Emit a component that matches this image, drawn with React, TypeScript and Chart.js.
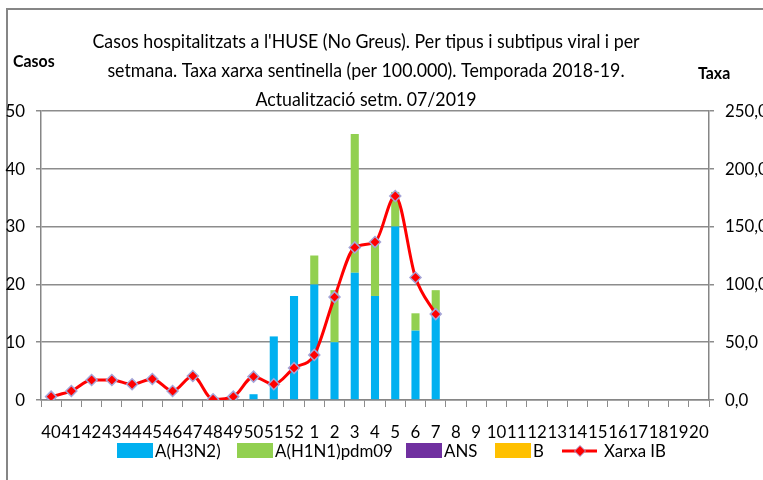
import React, { useEffect, useRef } from "react";
import { Chart, registerables } from "chart.js";

Chart.register(...registerables);

const FONT = "Lato, 'Liberation Sans', sans-serif";

const weeks = [
  "40", "41", "42", "43", "44", "45", "46", "47", "48", "49", "50", "51", "52",
  "1", "2", "3", "4", "5", "6", "7", "8", "9", "10", "11", "12", "13", "14", "15", "16", "17", "18", "19", "20",
];

const h3n2 = [0, 0, 0, 0, 0, 0, 0, 0, 0, 0, 1, 11, 18, 20, 10, 22, 18, 30, 12, 15];
const h1n1 = [0, 0, 0, 0, 0, 0, 0, 0, 0, 0, 0, 0, 0, 5, 9, 24, 9, 6, 3, 4];
const ans = [0, 0, 0, 0, 0, 0, 0, 0, 0, 0, 0, 0, 0, 0, 0, 0, 0, 0, 0, 0];
const fluB = [0, 0, 0, 0, 0, 0, 0, 0, 0, 0, 0, 0, 0, 0, 0, 0, 0, 0, 0, 0];
const taxaIB = [2.9, 7.8, 17.3, 17.3, 13.6, 18.2, 7.8, 20.8, 0.6, 2.9, 20.2, 13.6, 27.7, 39, 89, 132, 136.7, 176.5, 106, 74.3];

const seriesNames = ["A(H3N2)", "A(H1N1)pdm09", "ANS", "B", "Xarxa IB"];
const casosTicks = [0, 10, 20, 30, 40, 50];
const taxaTicks = [0, 50, 100, 150, 200, 250];

const titleLines = [
  "Casos hospitalitzats a l'HUSE (No Greus). Per tipus i subtipus viral i per",
  "setmana. Taxa xarxa sentinella (per 100.000). Temporada 2018-19.",
  "Actualització setm. 07/2019",
];
const leftAxisTitle = "Casos";
const rightAxisTitle = "Taxa";

const COLORS = {
  h3n2: "#00B0F0",
  h1n1: "#92D050",
  ans: "#7030A0",
  b: "#FFC000",
  line: "#FF0000",
  marker: "#A5A5D8",
  grid: "#8C8C8C",
  axis: "#868686",
};

const TITLE_FONT = `19px ${FONT}`;
const TITLE_LINE1_WIDTH = 547; // reference width of first title line, used to derive the condensed factor

const pad = (arr: number[]) => weeks.map((_, i) => (i < arr.length ? arr[i] : null));

let condense = 0.8;

const decorPlugin = {
  id: "decor",
  beforeInit(chart: any) {
    const ctx = chart.ctx as any;
    if (ctx.__condensed) return;
    const orig = ctx.fillText.bind(ctx);
    ctx.fillText = (text: string, x: number, y: number) => {
      ctx.save();
      ctx.translate(x, y);
      ctx.scale(condense, 1);
      orig(text, 0, 0);
      ctx.restore();
    };
    ctx.__condensed = true;
  },
  beforeDraw(chart: any) {
    const ctx = chart.ctx as CanvasRenderingContext2D;
    ctx.save();
    ctx.font = TITLE_FONT;
    const w = ctx.measureText(titleLines[0]).width;
    if (w > 0) condense = TITLE_LINE1_WIDTH / w;
    ctx.fillStyle = "#ffffff";
    ctx.fillRect(0, 0, chart.width, chart.height);
    ctx.strokeStyle = COLORS.axis;
    ctx.lineWidth = 2;
    ctx.beginPath();
    ctx.moveTo(7, chart.height);
    ctx.lineTo(7, 9);
    ctx.lineTo(chart.width, 9);
    ctx.stroke();
    ctx.restore();
  },
  afterDraw(chart: any) {
    const ctx = chart.ctx as CanvasRenderingContext2D;
    ctx.save();
    ctx.fillStyle = "#000";
    ctx.textBaseline = "middle";
    ctx.textAlign = "center";
    ctx.font = TITLE_FONT;
    titleLines.forEach((l, i) => ctx.fillText(l, 366, 42 + i * 29));
    ctx.font = `bold 17px ${FONT}`;
    ctx.textAlign = "left";
    ctx.fillText(leftAxisTitle, 13, 62);
    ctx.fillText(rightAxisTitle, 698, 74);

    // legend
    const ds = chart.data.datasets;
    const itemX = [117, 237, 406, 495, 562];
    const yMid = 451;
    ctx.font = `18px ${FONT}`;
    ds.forEach((d: any, i: number) => {
      const x = itemX[i];
      if (d.type === "line") {
        ctx.strokeStyle = d.borderColor;
        ctx.lineWidth = 3;
        ctx.beginPath();
        ctx.moveTo(x, yMid);
        ctx.lineTo(x + 35, yMid);
        ctx.stroke();
        const r = 5.5;
        ctx.beginPath();
        ctx.moveTo(x + 18, yMid - r);
        ctx.lineTo(x + 18 + r, yMid);
        ctx.lineTo(x + 18, yMid + r);
        ctx.lineTo(x + 18 - r, yMid);
        ctx.closePath();
        ctx.fillStyle = d.pointBackgroundColor;
        ctx.fill();
        ctx.strokeStyle = d.pointBorderColor;
        ctx.lineWidth = 1;
        ctx.stroke();
        ctx.fillStyle = "#000";
        ctx.fillText(d.label, x + 42, yMid);
      } else {
        ctx.fillStyle = d.backgroundColor;
        ctx.fillRect(x, yMid - 8, 36, 15);
        ctx.fillStyle = "#000";
        ctx.fillText(d.label, x + 38, yMid);
      }
    });
    ctx.restore();
  },
};

export default function App() {
  const ref = useRef<HTMLCanvasElement | null>(null);

  useEffect(() => {
    if (!ref.current) return;
    const tickFont = { family: FONT, size: 18 };
    const barCommon = { yAxisID: "y", barPercentage: 0.4, categoryPercentage: 1, borderWidth: 0, order: 2 };
    const chart = new Chart(ref.current, {
      type: "bar",
      data: {
        labels: weeks,
        datasets: [
          { ...barCommon, label: seriesNames[0], data: pad(h3n2), backgroundColor: COLORS.h3n2 },
          { ...barCommon, label: seriesNames[1], data: pad(h1n1), backgroundColor: COLORS.h1n1 },
          { ...barCommon, label: seriesNames[2], data: pad(ans), backgroundColor: COLORS.ans },
          { ...barCommon, label: seriesNames[3], data: pad(fluB), backgroundColor: COLORS.b },
          {
            type: "line",
            label: seriesNames[4],
            data: pad(taxaIB),
            yAxisID: "y1",
            borderColor: COLORS.line,
            borderWidth: 3,
            cubicInterpolationMode: "monotone",
            pointStyle: "rectRot",
            pointRadius: 5.5,
            pointBackgroundColor: COLORS.line,
            pointBorderColor: COLORS.marker,
            pointBorderWidth: 1.5,
            spanGaps: false,
            order: 1,
          } as any,
        ],
      },
      options: {
        responsive: false,
        animation: false,
        devicePixelRatio: 1,
        layout: { padding: { top: 111, bottom: 0, left: 0, right: 0 } },
        plugins: { legend: { display: false }, title: { display: false }, tooltip: { enabled: false } },
        scales: {
          x: {
            stacked: true,
            offset: true,
            grid: { display: true, drawOnChartArea: false, drawTicks: true, tickLength: 7, color: COLORS.grid, offset: true },
            border: { display: true, color: COLORS.axis, width: 1.5 },
            ticks: { autoSkip: false, maxRotation: 0, minRotation: 0, padding: 14, color: "#000", font: tickFont },
            afterFit: (s: any) => { s.height = 80; },
          },
          y: {
            stacked: true,
            position: "left",
            min: 0,
            max: 50,
            afterBuildTicks: (s: any) => { s.ticks = casosTicks.map((v) => ({ value: v })); },
            ticks: { padding: 11, color: "#000", font: tickFont },
            grid: { color: COLORS.grid, tickLength: 5, lineWidth: 1.5 },
            border: { display: true, color: COLORS.axis, width: 1.5 },
            afterFit: (s: any) => { s.width = 41; },
          },
          y1: {
            position: "right",
            min: 0,
            max: 250,
            afterBuildTicks: (s: any) => { s.ticks = taxaTicks.map((v) => ({ value: v })); },
            ticks: {
              padding: 11,
              color: "#000",
              font: tickFont,
              callback: (v: any) => Number(v).toFixed(1).replace(".", ","),
            },
            grid: { drawOnChartArea: false, color: COLORS.grid, tickLength: 5, lineWidth: 1.5 },
            border: { display: true, color: COLORS.axis, width: 1.5 },
            afterFit: (s: any) => { s.width = 54; },
          },
        },
      } as any,
      plugins: [decorPlugin],
    });
    return () => chart.destroy();
  }, []);

  return (
    <div style={{ position: "absolute", left: 0, top: 0, width: 763, height: 480 }}>
      <canvas ref={ref} width={763} height={480} style={{ width: 763, height: 480, display: "block" }} />
    </div>
  );
}
